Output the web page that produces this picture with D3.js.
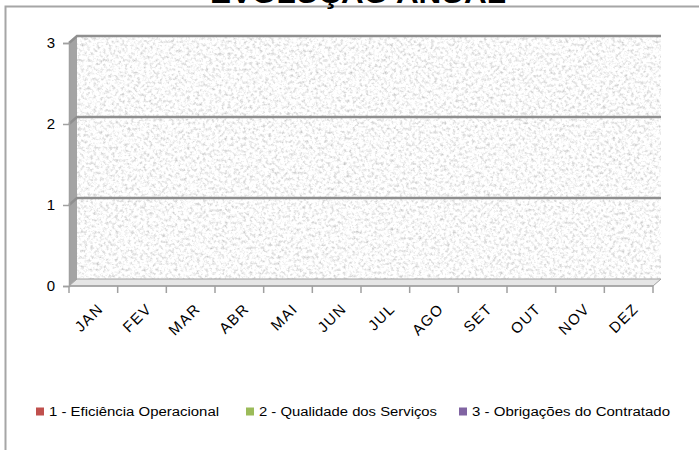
<!DOCTYPE html>
<html>
<head>
<meta charset="utf-8">
<script src="https://cdn.jsdelivr.net/npm/d3@7"></script>
<style>
  body { margin: 0; background: #fff; }
  svg { display: block; }
  text { font-family: "Liberation Sans", Arial, sans-serif; }
</style>
</head>
<body>
<div id="chart"></div>
<script>
var width = 699;
var height = 450;

// data
var months = ["JAN", "FEV", "MAR", "ABR", "MAI", "JUN", "JUL", "AGO", "SET", "OUT", "NOV", "DEZ"];
var seriesNames = ["1 - Eficiência Operacional", "2 - Qualidade dos Serviços", "3 - Obrigações do Contratado"];
var seriesColors = ["#c0504d", "#9bbb59", "#8064a2"];
var eficiencia = [0, 0, 0, 0, 0, 0, 0, 0, 0, 0, 0, 0];
var qualidade = [0, 0, 0, 0, 0, 0, 0, 0, 0, 0, 0, 0];
var obrigacoes = [0, 0, 0, 0, 0, 0, 0, 0, 0, 0, 0, 0];
var yTicks = [0, 1, 2, 3];
var title = "EVOLUÇÃO ANUAL";

var allSeries = [eficiencia, qualidade, obrigacoes];

// 3d depth offset of the back wall
var dx = 8, dy = -7;

var svg = d3.select("#chart")
    .append("svg")
    .attr("width", width)
    .attr("height", height);

// granite-like wall texture
var defs = svg.append("defs");
var filt = defs.append("filter")
    .attr("id", "granite")
    .attr("x", 0).attr("y", 0)
    .attr("width", "100%").attr("height", "100%");
filt.append("feTurbulence")
    .attr("type", "fractalNoise")
    .attr("baseFrequency", 0.32)
    .attr("numOctaves", 4)
    .attr("seed", 7);
filt.append("feColorMatrix")
    .attr("type", "matrix")
    .attr("values", "0.95 0 0 0 0.48  0.95 0 0 0 0.48  0.95 0 0 0 0.48  0 0 0 0 1");

var x = d3.scaleBand().domain(months).range([69, 653]);
var y = d3.scaleLinear().domain([0, 3]).range([286, 43]);

var x0 = x.range()[0], x1 = x.range()[1];

// outer chart border
svg.append("path")
    .attr("d", "M5.5," + height + "V6.5H" + width)
    .attr("fill", "none")
    .attr("stroke", "#a6a6a6")
    .attr("stroke-width", 2);

// title (mostly cut off by the top of the picture, as in the original)
svg.append("text")
    .attr("x", 358)
    .attr("y", 3)
    .attr("text-anchor", "middle")
    .attr("font-size", 28)
    .attr("font-weight", "bold")
    .attr("textLength", 296)
    .attr("lengthAdjust", "spacingAndGlyphs")
    .attr("fill", "#000")
    .text(title);

// back wall
svg.append("rect")
    .attr("x", x0 + dx)
    .attr("y", y(3) + dy)
    .attr("width", x1 - x0)
    .attr("height", y(0) - y(3))
    .attr("filter", "url(#granite)");

// side wall
svg.append("polygon")
    .attr("points", [[x0, y(3)], [x0 + dx, y(3) + dy], [x0 + dx, y(0) + dy], [x0, y(0)]].join(" "))
    .attr("fill", "#a4a4a4");

// floor
svg.append("polygon")
    .attr("points", [[x0, y(0)], [x0 + dx, y(0) + dy], [x1 + dx, y(0) + dy], [x1, y(0)]].join(" "))
    .attr("fill", "#e6e6e6")
    .attr("stroke", "#a0a0a0")
    .attr("stroke-width", 1);

// gridlines on back and side wall
var grid = svg.append("g").attr("class", "grid");
grid.selectAll("path")
    .data(yTicks.filter(function(d) { return d > 0; }))
    .enter()
    .append("path")
    .attr("d", function(d) {
        return "M" + x0 + "," + y(d) + "L" + (x0 + dx) + "," + (y(d) + dy) + "H" + (x1 + dx);
    })
    .attr("fill", "none")
    .attr("stroke", "#8f8f8f")
    .attr("stroke-width", 2.5);

// bars (all values are zero)
var inner = d3.scaleBand().domain([0, 1, 2]).range([0, x.bandwidth()]).padding(0.25);
var bars = svg.append("g").attr("class", "bars");
allSeries.forEach(function(vals, si) {
    bars.selectAll(".s" + si)
        .data(vals)
        .enter()
        .append("rect")
        .attr("class", "s" + si)
        .attr("x", function(d, i) { return x(months[i]) + inner(si) + dx / 2; })
        .attr("y", function(d) { return y(d) + dy / 2; })
        .attr("width", inner.bandwidth())
        .attr("height", function(d) { return y(0) - y(d); })
        .attr("fill", seriesColors[si]);
});

// y axis
var yAxis = svg.append("g")
    .attr("transform", "translate(" + x0 + ",0)")
    .call(d3.axisLeft(y).tickValues(yTicks).tickSize(6).tickPadding(8).tickFormat(d3.format("d")));
yAxis.select(".domain").attr("stroke", "#a0a0a0").attr("stroke-width", 1.5);
yAxis.selectAll(".tick line").attr("stroke", "#a0a0a0").attr("stroke-width", 1.5);
yAxis.selectAll("text")
    .attr("font-size", 15)
    .attr("font-family", "Liberation Sans, Arial, sans-serif")
    .attr("fill", "#000");

// x axis
var xAxis = svg.append("g")
    .attr("transform", "translate(0," + y(0) + ")");
xAxis.append("line")
    .attr("x1", x0).attr("x2", x1)
    .attr("stroke", "#a0a0a0").attr("stroke-width", 1.5);
xAxis.selectAll(".xt")
    .data(months.concat(["end"]))
    .enter()
    .append("line")
    .attr("x1", function(d, i) { return x0 + i * x.step(); })
    .attr("x2", function(d, i) { return x0 + i * x.step(); })
    .attr("y1", 0).attr("y2", 7)
    .attr("stroke", "#a0a0a0").attr("stroke-width", 1.5);
xAxis.selectAll(".xl")
    .data(months)
    .enter()
    .append("text")
    .attr("transform", function(d) {
        return "translate(" + (x(d) + x.bandwidth() / 2 + 7) + ",20) rotate(-45)";
    })
    .attr("text-anchor", "end")
    .attr("dy", "0.35em")
    .attr("font-size", 15)
    .attr("letter-spacing", 1.4)
    .attr("fill", "#000")
    .text(function(d) { return d; });

// legend
var legendX = [36, 246, 459];
var legendW = [170, 178, 198];
var legend = svg.append("g").attr("class", "legend");
var items = legend.selectAll("g")
    .data(seriesNames)
    .enter()
    .append("g")
    .attr("transform", function(d, i) { return "translate(" + legendX[i] + ",412)"; });
items.append("rect")
    .attr("x", 0).attr("y", -4.5)
    .attr("width", 8).attr("height", 8)
    .attr("fill", function(d, i) { return seriesColors[i]; });
items.append("text")
    .attr("x", 13)
    .attr("dy", "0.35em")
    .attr("font-size", 12)
    .attr("textLength", function(d, i) { return legendW[i]; })
    .attr("lengthAdjust", "spacingAndGlyphs")
    .attr("fill", "#000")
    .text(function(d) { return d; });
</script>
</body>
</html>
